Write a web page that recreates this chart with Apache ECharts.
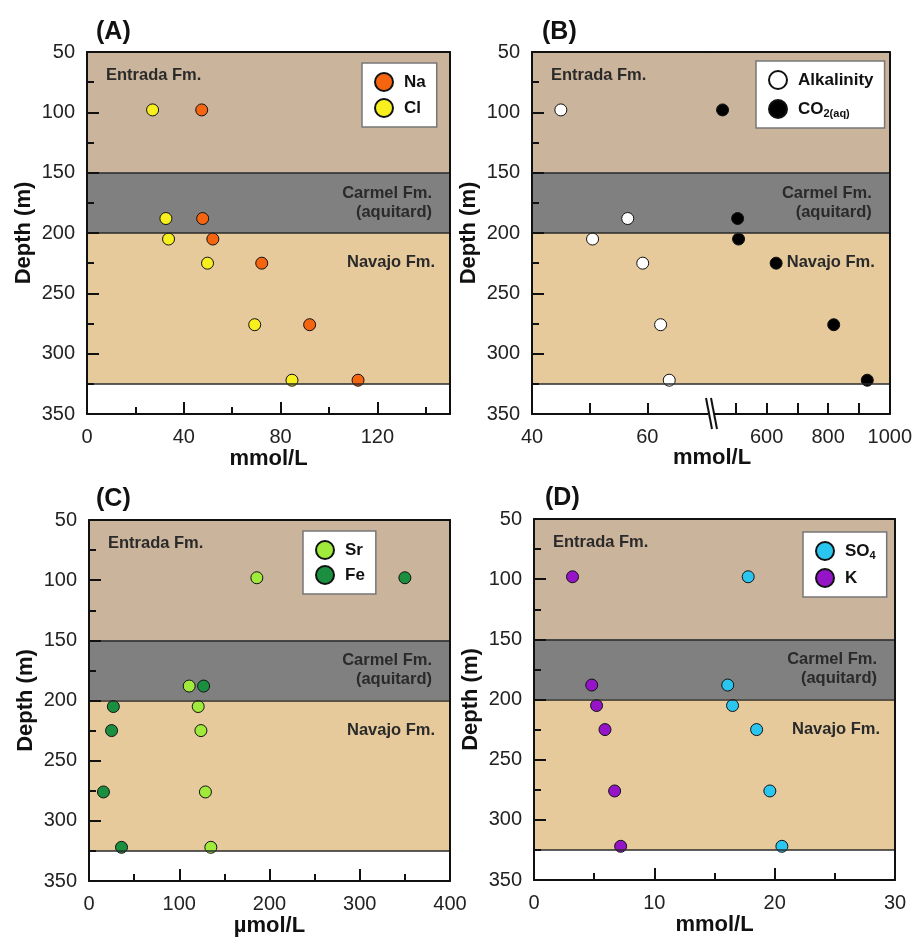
<!DOCTYPE html>
<html>
<head>
<meta charset="utf-8">
<title>Depth profiles</title>
<script src="https://cdn.jsdelivr.net/npm/echarts@6/dist/echarts.min.js"></script>
<style>
  html, body { margin: 0; padding: 0; background: #fff; }
  #chart { width: 915px; height: 942px; }
</style>
</head>
<body>
<div id="chart"></div>
<script>
// sample depths (m), same wells in every panel
var depths = [98, 188, 205, 225, 276, 322]

// (A) mmol/L
var naVals = [47.4, 47.8, 52, 72.2, 92, 112]
var clVals = [27.1, 32.6, 33.7, 49.8, 69.3, 84.7]
// (B) mmol/L, broken axis
var alkVals = [45.0, 56.6, 50.5, 59.2, 62.3, 63.8]
var co2Vals = [457, 506, 509, 631, 818, 927]
// (C) umol/L
var srVals = [186, 111, 121, 124, 129, 135]
var feVals = [350, 127, 27, 25, 16, 36]
// (D) mmol/L
var so4Vals = [17.8, 16.1, 16.5, 18.5, 19.6, 20.6]
var kVals = [3.2, 4.8, 5.2, 5.9, 6.7, 7.2]

// formations
var formationNames = ['Entrada Fm.', 'Carmel Fm.\n(aquitard)', 'Navajo Fm.']
var formationTops = [50, 150, 200]
var formationBases = [150, 200, 325]
var formationColors = ['#cbb49c', '#808080', '#e6ca9c']

// tick labels
var aLabels = [0, 40, 80, 120]
var aMajorTicks = [40, 80, 120]
var aMinorTicks = [20, 60, 100, 140]
var bLowLabels = [40, 60]
var bLowTicks = [50, 60]
var bHighLabels = [600, 800, 1000]
var bHighTicks = [500, 600, 700, 800, 900]

var FONT = '"Liberation Sans", Arial, sans-serif'
var INK = '#111'

function pairs(vals) {
  return vals.map(function (v, i) { return [v, depths[i]] })
}

var fmLabels = [
  { show: true, position: 'insideTopLeft', distance: 5, offset: [14, 10] },
  { show: true, position: 'insideRight', distance: 18, align: 'right', lineHeight: 19 },
  { show: true, position: 'insideTopRight', distance: 15, offset: [0, 6] }
]

function bands(showLabel) {
  return {
    silent: true,
    data: formationTops.map(function (t, i) {
      var lab = showLabel[i] ? Object.assign({
        color: '#2a2a2a', fontWeight: 'bold', fontSize: 16.5, fontFamily: FONT
      }, fmLabels[i]) : { show: false }
      return [
        { yAxis: t, name: formationNames[i], itemStyle: { color: formationColors[i], opacity: 1 }, label: lab },
        { yAxis: formationBases[i] }
      ]
    })
  }
}

function contacts() {
  return {
    silent: true,
    symbol: ['none', 'none'],
    label: { show: false },
    lineStyle: { color: '#2a2a2a', width: 1.5, type: 'solid' },
    data: formationBases.map(function (v) { return { yAxis: v } })
  }
}

var lineStyle = { color: INK, width: 2 }

function yMain(g) {
  return {
    gridIndex: g, type: 'value', inverse: true, min: 50, max: 350, interval: 50,
    position: 'left', z: 10,
    name: 'Depth (m)', nameLocation: 'middle', nameGap: 52,
    nameTextStyle: { fontSize: 22, fontWeight: 'bold', color: INK, fontFamily: FONT },
    axisLine: { show: true, onZero: false, lineStyle: lineStyle },
    axisTick: { show: true, inside: true, length: 12, lineStyle: lineStyle },
    minorTick: { show: true, splitNumber: 2, length: 7, lineStyle: lineStyle },
    axisLabel: { fontSize: 20, color: '#222', margin: 12, fontFamily: FONT },
    splitLine: { show: false }, minorSplitLine: { show: false }
  }
}

function yFrame(g) {
  return {
    gridIndex: g, type: 'value', inverse: true, min: 50, max: 350,
    position: 'right', z: 10,
    axisLine: { show: true, onZero: false, lineStyle: lineStyle },
    axisTick: { show: false }, axisLabel: { show: false }, splitLine: { show: false }
  }
}

function xFrame(g, min, max) {
  return {
    gridIndex: g, type: 'value', min: min, max: max, position: 'top', z: 10,
    axisLine: { show: true, onZero: false, lineStyle: lineStyle },
    axisTick: { show: false }, axisLabel: { show: false }, splitLine: { show: false }
  }
}

function plain(v) { return String(v) }

function xMain(g, opts) {
  return Object.assign({
    gridIndex: g, type: 'value', position: 'bottom', z: 10,
    nameLocation: 'middle', nameGap: 33,
    nameTextStyle: { fontSize: 22, fontWeight: 'bold', color: INK, fontFamily: FONT, verticalAlign: 'top' },
    axisLine: { show: true, onZero: false, lineStyle: lineStyle },
    axisTick: { show: true, inside: true, length: 12, lineStyle: lineStyle },
    axisLabel: { fontSize: 20, color: '#222', margin: 13, fontFamily: FONT, formatter: plain },
    splitLine: { show: false }, minorSplitLine: { show: false }
  }, opts)
}

function dots(name, vals, color, xi, yi, extra) {
  return Object.assign({
    name: name, type: 'scatter', xAxisIndex: xi, yAxisIndex: yi,
    symbol: 'circle', symbolSize: 12,
    itemStyle: { color: color, borderColor: INK, borderWidth: 1, opacity: 1 },
    emphasis: { disabled: true },
    data: pairs(vals)
  }, extra || {})
}

function legendAt(left, top, names, gap) {
  return {
    left: left, top: top, orient: 'vertical', data: names,
    backgroundColor: '#fff', borderColor: '#777', borderWidth: 1.5, borderRadius: 0,
    padding: [9, 11, 9, 12], itemGap: gap, itemWidth: 18, itemHeight: 18,
    icon: 'circle', selectedMode: false,
    formatter: function (n) {
      if (n === 'CO2(aq)') return 'CO{sub|2(aq)}'
      if (n === 'SO4') return 'SO{sub|4}'
      return n
    },
    textStyle: {
      fontSize: 17, fontWeight: 'bold', color: INK, fontFamily: FONT, padding: [0, 0, 0, 6],
      rich: { sub: { fontSize: 11, fontWeight: 'bold', color: INK, fontFamily: FONT, verticalAlign: 'bottom', padding: [9, 0, 0, 0] } }
    }
  }
}

function panelTitle(txt, left, top) {
  return { text: txt, left: left, top: top, padding: 0,
    textStyle: { fontSize: 25, fontWeight: 'bold', color: INK, fontFamily: FONT } }
}

var chart = echarts.init(document.getElementById('chart'))

chart.setOption({
  animation: false,
  backgroundColor: '#fff',
  title: [
    panelTitle('(A)', 96, 20),
    panelTitle('(B)', 542, 20),
    panelTitle('(C)', 96, 487),
    panelTitle('(D)', 545, 486),
    { text: 'mmol/L', left: 712, top: 447, textAlign: 'center', padding: 0,
      textStyle: { fontSize: 22, fontWeight: 'bold', color: INK, fontFamily: FONT } }
  ],
  grid: [
    { left: 87, top: 52, width: 363, height: 362 },
    { left: 532, top: 52, width: 173, height: 362 },
    { left: 705, top: 52, width: 188, height: 362 },
    { left: 89, top: 520, width: 361, height: 361 },
    { left: 534, top: 519, width: 361, height: 361 }
  ],
  xAxis: [
    xMain(0, { min: 0, max: 150, name: 'mmol/L',
      axisTick: { show: true, inside: true, length: 12, lineStyle: lineStyle, customValues: aMajorTicks },
      axisLabel: { fontSize: 20, color: '#222', margin: 13, fontFamily: FONT, formatter: plain, customValues: aLabels } }),
    { gridIndex: 0, type: 'value', min: 0, max: 150, position: 'bottom', z: 10,
      axisLine: { show: false },
      axisTick: { show: true, inside: true, length: 7, lineStyle: lineStyle, customValues: aMinorTicks },
      axisLabel: { show: false }, splitLine: { show: false } },
    xFrame(0, 0, 150),
    xMain(1, { min: 40, max: 70,
      axisTick: { show: true, inside: true, length: 11, lineStyle: lineStyle, customValues: bLowTicks },
      axisLabel: { fontSize: 20, color: '#222', margin: 13, fontFamily: FONT, formatter: plain, customValues: bLowLabels } }),
    xFrame(1, 40, 70),
    xMain(2, { min: 400, max: 1000,
      axisTick: { show: true, inside: true, length: 11, lineStyle: lineStyle, customValues: bHighTicks },
      axisLabel: { fontSize: 20, color: '#222', margin: 13, fontFamily: FONT, formatter: plain, customValues: bHighLabels } }),
    xFrame(2, 400, 1000),
    xMain(3, { min: 0, max: 400, interval: 100, name: 'µmol/L',
      minorTick: { show: true, splitNumber: 2, length: 7, lineStyle: lineStyle } }),
    xFrame(3, 0, 400),
    xMain(4, { min: 0, max: 30, interval: 10, name: 'mmol/L',
      minorTick: { show: true, splitNumber: 2, length: 7, lineStyle: lineStyle } }),
    xFrame(4, 0, 30)
  ],
  yAxis: [
    yMain(0), yFrame(0),
    yMain(1),
    yFrame(2),
    yMain(3), yFrame(3),
    yMain(4), yFrame(4)
  ],
  legend: [
    legendAt(362, 63, ['Na', 'Cl'], 6),
    legendAt(756, 61, ['Alkalinity', 'CO2(aq)'], 9),
    legendAt(303, 531, ['Sr', 'Fe'], 5),
    legendAt(803, 532, ['SO4', 'K'], 7)
  ],
  series: [
    dots('Na', naVals, '#f5640f', 0, 0, { markArea: bands([1, 1, 1]), markLine: contacts() }),
    dots('Cl', clVals, '#f7f01e', 0, 0),
    dots('Alkalinity', alkVals, '#ffffff', 3, 2, { markArea: bands([1, 0, 0]), markLine: contacts() }),
    dots('CO2(aq)', co2Vals, '#000000', 5, 3, { markArea: bands([0, 1, 1]), markLine: contacts() }),
    dots('Sr', srVals, '#9fea3a', 7, 4, { markArea: bands([1, 1, 1]), markLine: contacts() }),
    dots('Fe', feVals, '#1b8f40', 7, 4),
    dots('SO4', so4Vals, '#2ac6f0', 9, 6, { markArea: bands([1, 1, 1]), markLine: contacts() }),
    dots('K', kVals, '#9614c8', 9, 6)
  ]
})

// axis break mark on panel B
var jx = chart.convertToPixel({ xAxisIndex: 5 }, 400)
var yb = chart.convertToPixel({ yAxisIndex: 3 }, 350)
chart.setOption({
  graphic: [
    { type: 'rect', z: 100, shape: { x: jx + 3, y: yb - 2, width: 6, height: 4 }, style: { fill: '#fff' } },
    { type: 'line', z: 101, shape: { x1: jx + 1, y1: yb - 16, x2: jx + 7, y2: yb + 15 }, style: { stroke: INK, lineWidth: 2 } },
    { type: 'line', z: 101, shape: { x1: jx + 6, y1: yb - 16, x2: jx + 12, y2: yb + 15 }, style: { stroke: INK, lineWidth: 2 } }
  ]
})
</script>
</body>
</html>
